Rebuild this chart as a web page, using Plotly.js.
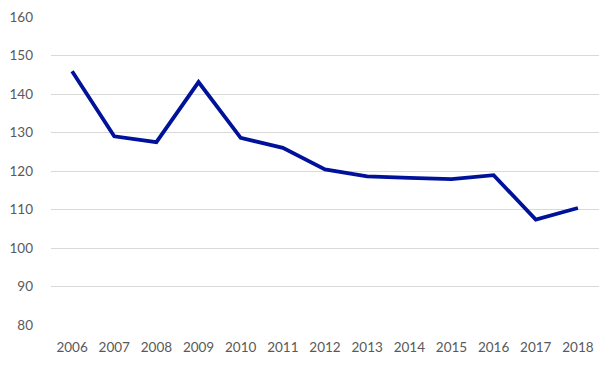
<!DOCTYPE html>
<html>
<head>
<meta charset="utf-8">
<script src="https://cdn.plot.ly/plotly-3.0.1.min.js"></script>
<style>html,body{margin:0;padding:0;background:#fff;}#chart{width:610px;height:369px;}</style>
</head>
<body>
<div id="chart"></div>
<script>
const years = ["2006","2007","2008","2009","2010","2011","2012","2013","2014","2015","2016","2017","2018"];
const values = [145.9, 129.0, 127.5, 143.1, 128.6, 126.0, 120.4, 118.6, 118.2, 117.9, 118.9, 107.4, 110.4];
const yTicks = [80, 90, 100, 110, 120, 130, 140, 150, 160];

const trace = {
  x: years,
  y: values,
  type: "scatter",
  mode: "lines",
  line: {color: "#00129A", width: 3.8},
  hoverinfo: "skip"
};

const layout = {
  width: 610,
  height: 369,
  margin: {l: 51, r: 11, t: 17, b: 44},
  paper_bgcolor: "#ffffff",
  plot_bgcolor: "#ffffff",
  showlegend: false,
  font: {family: "Lato, 'Open Sans', sans-serif", size: 13.5, color: "#595959"},
  xaxis: {
    type: "category",
    range: [-0.5, 12.5],
    showgrid: false,
    zeroline: false,
    showline: false,
    ticks: "",
    ticklabelstandoff: 12,
    fixedrange: true
  },
  yaxis: {
    range: [80, 160],
    tickvals: yTicks,
    ticktext: yTicks.map(String),
    showgrid: true,
    gridcolor: "#d9d9d9",
    gridwidth: 1,
    zeroline: false,
    showline: false,
    ticks: "",
    ticklabelstandoff: 17,
    fixedrange: true
  }
};

Plotly.newPlot("chart", [trace], layout, {displayModeBar: false, staticPlot: true});
</script>
</body>
</html>
